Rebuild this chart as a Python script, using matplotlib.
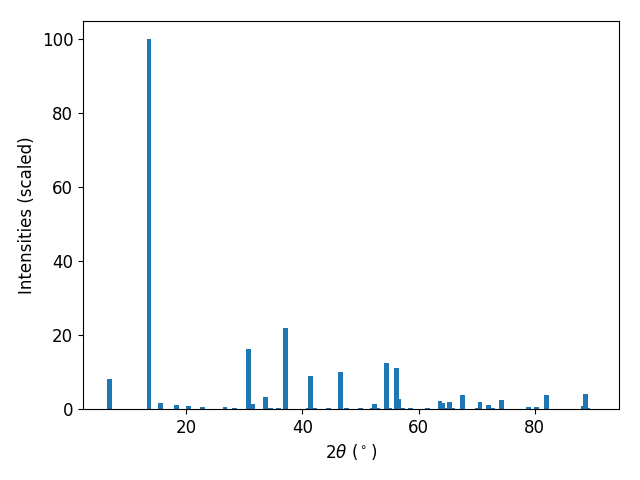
import matplotlib
matplotlib.use("Agg")
import matplotlib.pyplot as plt

two_theta = [6.8, 13.6, 15.6, 18.4, 20.4, 22.8, 26.7, 28.3, 30.7, 31.4, 33.7, 34.5,
             35.9, 37.1, 41.0, 41.4, 42.1, 44.5, 46.6, 47.6, 50.0, 52.0, 52.4, 53.0,
             54.5, 55.0, 56.2, 56.6, 57.2, 58.6, 61.6, 63.7, 64.1, 64.6, 65.3, 65.8,
             67.6, 70.2, 70.6, 72.1, 72.8, 74.3, 78.9, 80.3, 82.0, 88.4, 88.7, 89.1]
intensities = [8.1, 100, 1.6, 1.1, 0.8, 0.5, 0.5, 0.3, 16.3, 1.3, 3.2, 0.2,
               0.3, 22.0, 0.3, 9.0, 0.3, 0.3, 10.0, 0.3, 0.3, 0.3, 1.3, 0.3,
               12.5, 0.3, 11.1, 2.6, 0.4, 0.3, 0.3, 2.2, 1.7, 0.4, 1.9, 0.4,
               3.8, 0.3, 1.9, 1.2, 0.3, 2.4, 0.5, 0.5, 3.8, 0.7, 4.1, 0.3]

plt.rcParams['font.size'] = 12
fig, ax = plt.subplots(figsize=(6.4, 4.8), dpi=100)
ax.bar(two_theta, intensities, width=0.8, color='#1f77b4')
ax.set_xlim(2.27, 94.5)
ax.set_ylim(0, 105)
ax.set_xlabel(r'$2\theta$ ($^\circ$)')
ax.set_ylabel('Intensities (scaled)')
fig.subplots_adjust(left=83/640, right=619/640, bottom=(480-409)/480, top=(480-21)/480)
fig.savefig('out.png', dpi=100)
